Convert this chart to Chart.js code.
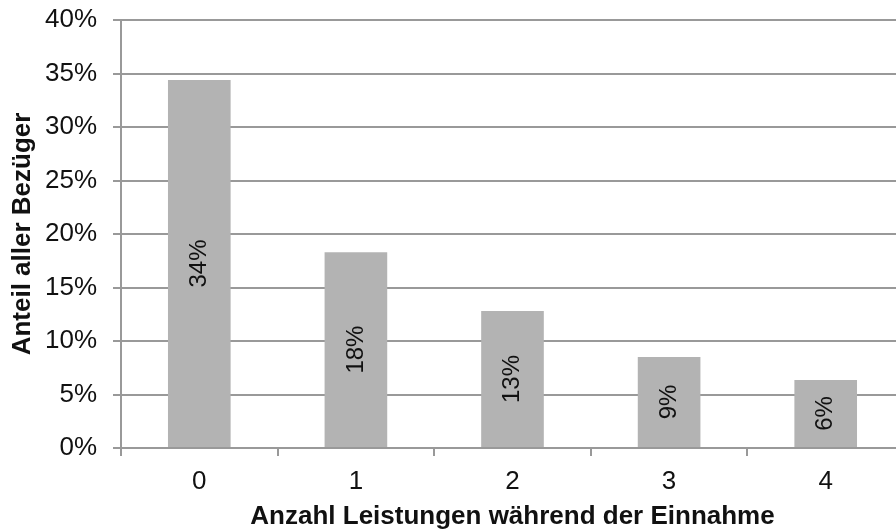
<!DOCTYPE html>
<html>
<head>
<meta charset="utf-8">
<style>
  html, body { margin: 0; padding: 0; background: #fff; overflow: hidden; }
  #wrap { width: 896px; height: 532px; overflow: hidden; }
</style>
<script src="https://cdn.jsdelivr.net/npm/chart.js@4.4.0/dist/chart.umd.min.js"></script>
</head>
<body>
<div id="wrap"><canvas id="c" width="904" height="532"></canvas></div>
<script>
const categories = ['0', '1', '2', '3', '4'];
const shares = [34.4, 18.3, 12.8, 8.5, 6.35];
const valueLabels = ['34%', '18%', '13%', '9%', '6%'];
const yTicks = [0, 5, 10, 15, 20, 25, 30, 35, 40];
const xTitle = 'Anzahl Leistungen während der Einnahme';
const yTitle = 'Anteil aller Bezüger';

const FONT = "'Liberation Sans', Arial, sans-serif";
const GRID = '#999999';

const barLabels = {
  id: 'barLabels',
  afterDatasetsDraw(chart) {
    const ctx = chart.ctx;
    const meta = chart.getDatasetMeta(0);
    ctx.save();
    ctx.fillStyle = '#111';
    ctx.font = '24px ' + FONT;
    ctx.textAlign = 'center';
    ctx.textBaseline = 'middle';
    meta.data.forEach((bar, i) => {
      const cy = (bar.y + bar.base) / 2;
      ctx.save();
      ctx.translate(bar.x, cy);
      ctx.rotate(-Math.PI / 2);
      ctx.fillText(valueLabels[i], 0, 0);
      ctx.restore();
    });
    ctx.restore();
  }
};

new Chart(document.getElementById('c'), {
  type: 'bar',
  data: {
    labels: categories,
    datasets: [{
      data: shares,
      backgroundColor: '#b3b3b3',
      borderWidth: 0,
      barPercentage: 0.4,
      categoryPercentage: 1.0
    }]
  },
  options: {
    responsive: false,
    animation: false,
    layout: { padding: { top: 20, right: 0, left: 0, bottom: 0 } },
    plugins: { legend: { display: false }, tooltip: { enabled: false } },
    scales: {
      x: {
        offset: true,
        grid: {
          offset: true,
          drawOnChartArea: false,
          drawTicks: true,
          tickLength: 8,
          color: GRID,
          lineWidth: 2
        },
        border: { display: true, color: GRID, width: 2 },
        ticks: { color: '#111', font: { family: FONT, size: 26 }, padding: 10 },
        title: {
          display: true, text: xTitle, color: '#111',
          font: { family: FONT, size: 26, weight: 'bold' },
          padding: { top: 0, bottom: 0 }
        },
        afterFit(s) { s.height = 84; s.paddingLeft = 0; s.paddingRight = 0; }
      },
      y: {
        min: 0, max: 40,
        afterBuildTicks(s) { s.ticks = yTicks.map(v => ({ value: v })); },
        grid: { color: GRID, lineWidth: 2, tickLength: 8, drawTicks: true },
        border: { display: true, color: GRID, width: 2 },
        ticks: {
          color: '#111', font: { family: FONT, size: 26 }, padding: 16,
          callback: v => v + '%'
        },
        title: {
          display: true, text: yTitle, color: '#111',
          font: { family: FONT, size: 26, weight: 'bold' },
          padding: { top: 7, bottom: 0 }
        },
        afterFit(s) { s.width = 121; s.paddingTop = 0; s.paddingBottom = 0; }
      }
    }
  },
  plugins: [barLabels]
});
</script>
</body>
</html>
